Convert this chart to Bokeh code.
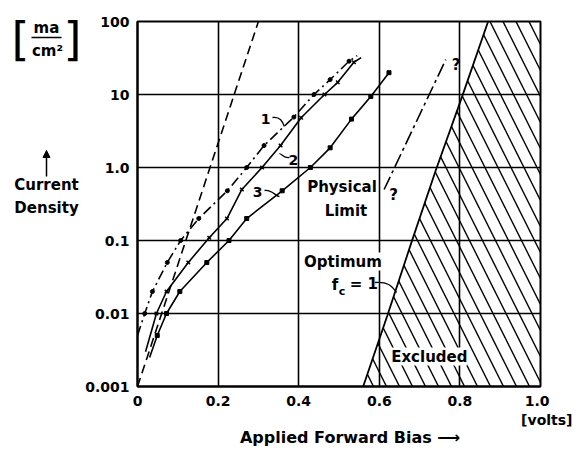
from bokeh.plotting import figure
from bokeh.embed import file_html
from bokeh.resources import INLINE
from bokeh.layouts import row
from bokeh.models import Label, FixedTicker, Range1d, Arrow, NormalHead

# ---- data ----
x_ticks = [0.0, 0.2, 0.4, 0.6, 0.8, 1.0]
x_tick_labels = ["0", "0.2", "0.4", "0.6", "0.8", "1.0\n\u00a0\u00a0\u00a0\u00a0[volts]"]
y_ticks = [0.001, 0.01, 0.1, 1.0, 10, 100]
y_tick_labels = ["0.001", "0.01", "0.1", "1.0", "10", "100"]

curve1_x = [0.0, 0.018, 0.037, 0.074, 0.107, 0.152, 0.223, 0.271, 0.314, 0.388, 0.438, 0.478, 0.525, 0.545]
curve1_y = [0.005, 0.01, 0.02, 0.05, 0.1, 0.2, 0.48, 1.0, 2.0, 4.9, 10, 16, 28.6, 34]

curve2_x = [0.02, 0.047, 0.072, 0.126, 0.178, 0.222, 0.259, 0.309, 0.355, 0.406, 0.464, 0.497, 0.537, 0.555]
curve2_y = [0.003, 0.01, 0.02, 0.05, 0.109, 0.2, 0.5, 1.0, 2.0, 4.8, 10, 14.7, 27.7, 32]

curve3_x = [0.03, 0.049, 0.072, 0.105, 0.172, 0.227, 0.271, 0.359, 0.429, 0.478, 0.531, 0.579, 0.624]
curve3_y = [0.0025, 0.005, 0.01, 0.02, 0.05, 0.1, 0.2, 0.48, 1.0, 1.86, 4.6, 9.4, 19.9]

steep_x = [0.0, 0.3]
steep_y = [0.001, 100]

phys_x = [0.612, 0.765]
phys_y = [0.5, 30]

excl_x = [0.56, 0.62, 0.68, 0.74, 0.805, 0.87]
excl_y = [0.001, 0.0094, 0.095, 0.91, 9.2, 100]

FONT = "DejaVu Sans"

TW, H = 572, 450          # total size
LW = 82                    # left text panel width
MW = TW - LW
# frame in picture pixels
FL, FR, FT, FB = 134, 540, 21, 386


def dx(X):
    return (X - FL) / (FR - FL)


def dy(Y):
    return 10 ** (-3 + (FB - Y) / (FB - FT) * 5)


p = figure(width=MW, height=H, x_range=Range1d(0, 1), y_range=Range1d(0.001, 100),
           y_axis_type="log", output_backend="svg", toolbar_location=None,
           min_border_left=FL - LW, min_border_right=TW - FR,
           min_border_top=FT, min_border_bottom=H - FB)
p.frame_align = False
p.background_fill_color = "white"
p.border_fill_color = "white"
p.outline_line_color = "black"
p.outline_line_width = 2

for ax in (p.xaxis[0], p.yaxis[0]):
    ax.axis_line_width = 2
    ax.axis_line_color = "black"
    ax.major_tick_out = 0
    ax.major_tick_in = 0
    ax.minor_tick_out = 0
    ax.minor_tick_in = 0
    ax.major_label_text_font = FONT
    ax.major_label_text_font_style = "bold"
    ax.major_label_text_font_size = "14px"
    ax.major_label_text_color = "black"

p.xaxis.ticker = FixedTicker(ticks=x_ticks)
p.xaxis.major_label_overrides = {t: l for t, l in zip(x_ticks, x_tick_labels)}
p.yaxis.ticker = FixedTicker(ticks=y_ticks)
p.yaxis.major_label_overrides = {t: l for t, l in zip(y_ticks, y_tick_labels)}
p.xaxis.major_label_standoff = 6
p.yaxis.major_label_standoff = 8
p.xaxis.axis_label = "\u00a0\u00a0\u00a0\u00a0Applied Forward Bias \u27f6"
p.xaxis.axis_label_text_font = FONT
p.xaxis.axis_label_text_font_style = "bold"
p.xaxis.axis_label_text_font_size = "16px"
p.xaxis.axis_label_text_color = "black"
p.xaxis.axis_label_standoff = -3

p.xgrid.ticker = FixedTicker(ticks=x_ticks)
p.ygrid.ticker = FixedTicker(ticks=y_ticks)
for g in (p.xgrid[0], p.ygrid[0]):
    g.grid_line_color = "black"
    g.grid_line_width = 1.6
    g.grid_line_alpha = 1.0

# excluded hatched region
p.patch(excl_x + [1.0, 1.0], excl_y + [100, 0.001], fill_color=None, fill_alpha=0,
        hatch_pattern="\\", hatch_color="black", hatch_scale=26, hatch_weight=1.4,
        line_color=None)
p.line(excl_x, excl_y, line_color="black", line_width=1.8)

# steep dashed line
p.line(steep_x, steep_y, line_color="black", line_width=1.6, line_dash="9 5")

# curves
p.line(curve1_x, curve1_y, line_color="black", line_width=1.6, line_dash="10 4 2 4")
p.scatter(curve1_x[1:-1], curve1_y[1:-1], marker="circle", size=4, color="black")

p.line(curve2_x, curve2_y, line_color="black", line_width=1.6)
p.scatter(curve2_x[1:-1], curve2_y[1:-1], marker="x", size=5, line_color="black", line_width=1.5)

p.line(curve3_x, curve3_y, line_color="black", line_width=1.6)
p.scatter(curve3_x[1:], curve3_y[1:], marker="square", size=4, color="black")

# physical limit line
p.line(phys_x, phys_y, line_color="black", line_width=1.6, line_dash="14 4 3 4")

# small pointer curves for labels 1,2,3 and f_c = 1
p.bezier(x0=[dx(270), dx(287), dx(262), dx(373)], y0=[dy(117), dy(157), dy(190), dy(282)],
         x1=[dx(282), dx(277), dx(277), dx(395)], y1=[dy(126), dy(153), dy(196), dy(292)],
         cx0=[dx(278), dx(282), dx(270), dx(386)], cy0=[dy(116), dy(158), dy(189), dy(281)],
         cx1=[dx(280), dx(280), dx(273), dx(390)], cy1=[dy(121), dy(154), dy(196), dy(285)],
         line_color="black", line_width=1.3)


def lab(fig, x, y, text, size="15px", align="left", bg=None, style="bold"):
    l = Label(x=x, y=y, text=text, text_font=FONT, text_font_style=style,
              text_font_size=size, text_align=align, text_baseline="middle",
              text_color="black")
    if bg:
        l.background_fill_color = bg
    fig.add_layout(l)
    return l


def mlab(X, Y, text, **kw):
    return lab(p, dx(X), dy(Y), text, **kw)


# curve labels
mlab(263, 118, "1", size="14px", align="center")
mlab(291, 159, "2", size="14px", align="center")
mlab(255, 191, "3", size="14px", align="center")

# annotations in plot
mlab(340, 186, "Physical", align="center", bg="white")
mlab(344, 210, "Limit", align="center", bg="white")
mlab(392, 194, "?", align="center")
mlab(455, 64, "?", align="center")
mlab(341, 261, "Optimum", align="center", bg="white")
mlab(333, 284, "f", align="center", bg="white")
mlab(340, 291, "c", size="11px", align="center")
mlab(362, 283, "= 1", align="center")
mlab(428, 356, "Excluded", align="center", bg="white")

# ---- left text panel (y axis title block) ----
q = figure(width=LW, height=H, x_range=Range1d(0, LW), y_range=Range1d(H, 0),
           output_backend="svg", toolbar_location=None,
           min_border_left=0, min_border_right=0, min_border_top=0, min_border_bottom=0)
q.frame_align = False
q.axis.visible = False
q.grid.visible = False
q.outline_line_color = None
q.background_fill_color = "white"
q.border_fill_color = "white"

lab(q, 46, 27, "ma", align="center")
lab(q, 47, 50, "cm²", align="center")
lab(q, 20, 38, "[", size="46px", align="center", style="normal")
lab(q, 72, 38, "]", size="46px", align="center", style="normal")
lab(q, 46, 184, "Current", align="center")
lab(q, 46, 207, "Density", align="center")
q.add_layout(Arrow(x_start=31, y_start=37, x_end=61, y_end=37,
                   end=None, line_width=1.5, line_color="black"))
q.add_layout(Arrow(x_start=46, y_start=176, x_end=46, y_end=150,
                   end=NormalHead(size=7, fill_color="black", line_color="black"),
                   line_width=1.5, line_color="black"))

layout = row(q, p)
open("out.html", "w").write(file_html(layout, INLINE))
